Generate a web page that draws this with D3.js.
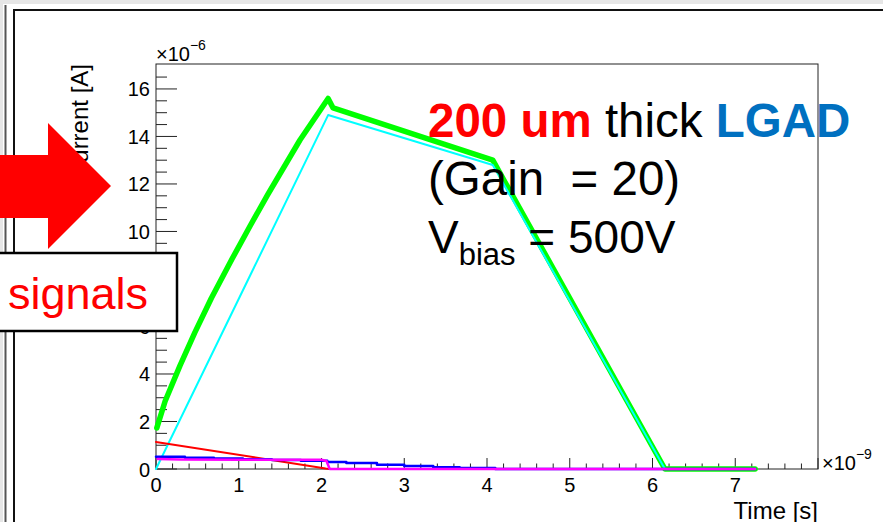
<!DOCTYPE html>
<meta charset="utf-8">
<style>
body { margin: 0; background: #fff; }
svg { display: block; font-family: "Liberation Sans", Arial, sans-serif; }
</style>
<body>
<script src="https://d3js.org/d3.v7.min.js"></script>
<script>
// values: time in ns, current in uA
var timeGreen = [0.01, 0.11, 0.29, 0.47, 0.67, 0.92, 1.14, 1.35, 1.74, 2.08, 2.14, 4.07, 6.15, 7.24]
var currGreen = [1.73, 2.85, 4.35, 5.75, 7.2, 8.85, 10.25, 11.55, 13.85, 15.6, 15.2, 13.0, 0, 0]
var timeCyan = [0, 2.08, 4.07, 6.15, 7.24]
var currCyan = [0, 14.9, 12.8, 0, 0]
var timeRed = [0, 2.05, 2.1]
var currRed = [1.14, 0.02, 0]
var timeBlue = [0, 0.35, 0.7, 1.05, 1.4, 1.75, 2.07, 2.3, 2.67, 3.0, 3.35, 3.67, 4.1, 7.24]
var currBlue = [0.52, 0.47, 0.44, 0.41, 0.38, 0.35, 0.29, 0.25, 0.18, 0.13, 0.07, 0.04, 0, 0]
var timeMag = [0.02, 0.3, 1.0, 1.5, 2.0, 2.06, 2.1, 7.24]
var currMag = [0.42, 0.40, 0.39, 0.39, 0.39, 0.34, 0, 0]

var xTicks = [0, 1, 2, 3, 4, 5, 6, 7]
var yTicks = [0, 2, 4, 6, 8, 10, 12, 14, 16]

var W = 883, H = 522
var svg = d3.select("body").append("svg").attr("width", W).attr("height", H)

// canvas frame (ROOT pad edges)
svg.append("rect").attr("x", 0).attr("y", 0).attr("width", W).attr("height", 4).attr("fill", "#e6e6e6")
svg.append("rect").attr("x", 0).attr("y", 0).attr("width", 3).attr("height", H).attr("fill", "#e6e6e6")
svg.append("line").attr("x1", 5.5).attr("x2", 5.5).attr("y1", 5).attr("y2", H).attr("stroke", "#555").attr("stroke-width", 2)
svg.append("line").attr("x1", 14).attr("x2", 14).attr("y1", 9).attr("y2", H).attr("stroke", "#111").attr("stroke-width", 2)
svg.append("line").attr("x1", 13).attr("x2", W).attr("y1", 10).attr("y2", 10).attr("stroke", "#111").attr("stroke-width", 2)

var x = d3.scaleLinear().domain([0, 8]).range([156, 818])
var y = d3.scaleLinear().domain([0, 17.05]).range([469, 64])

var g = svg.append("g")

// frame box
g.append("rect").attr("x", x(0)).attr("y", y(17.05)).attr("width", x(8) - x(0)).attr("height", y(0) - y(17.05))
  .attr("fill", "none").attr("stroke", "#222").attr("stroke-width", 1)

// x ticks (pointing up, inside)
d3.range(0, 8.001, 0.2).forEach(function (t) {
  var major = Math.abs(t - Math.round(t)) < 1e-6
  g.append("line").attr("x1", x(t)).attr("x2", x(t)).attr("y1", y(0)).attr("y2", y(0) - (major ? 11 : 5.5))
    .attr("stroke", "#222").attr("stroke-width", 1)
})
// y ticks (pointing right, inside)
d3.range(0, 16.6, 0.5).forEach(function (v) {
  var major = Math.abs(v / 2 - Math.round(v / 2)) < 1e-6
  g.append("line").attr("x1", x(0)).attr("x2", x(0) + (major ? 21 : 11)).attr("y1", y(v)).attr("y2", y(v))
    .attr("stroke", "#222").attr("stroke-width", 1)
})

g.selectAll(".xl").data(xTicks).enter().append("text")
  .attr("x", (d) => x(d)).attr("y", 492).attr("text-anchor", "middle")
  .style("font-size", "20px").text((d) => d)
g.selectAll(".yl").data(yTicks).enter().append("text")
  .attr("x", 150).attr("y", (d) => y(d) + 7.5).attr("text-anchor", "end")
  .style("font-size", "20px").text((d) => d)

// exponents
var e6 = g.append("text").attr("x", 156).attr("y", 61).style("font-size", "20px")
e6.append("tspan").text("\u00d710")
e6.append("tspan").attr("dy", -11).style("font-size", "14px").text("\u22126")
var e9 = g.append("text").attr("x", 822).attr("y", 470).style("font-size", "20px")
e9.append("tspan").text("\u00d710")
e9.append("tspan").attr("dy", -11).style("font-size", "14px").text("\u22129")

// axis titles
g.append("text").attr("x", 818).attr("y", 519).attr("text-anchor", "end").style("font-size", "24px").text("Time [s]")
g.append("text").attr("transform", "translate(88,64) rotate(-90)").attr("text-anchor", "end")
  .style("font-size", "24px").text("Current [A]")

// curves
function draw(tt, cc, color, w, curve) {
  var pts = tt.map((t, i) => [t, cc[i]])
  g.append("path").datum(pts)
    .attr("d", d3.line().x((d) => x(d[0])).y((d) => y(d[1])).curve(curve || d3.curveLinear))
    .attr("fill", "none").attr("stroke", color).attr("stroke-width", w)
    .attr("stroke-linejoin", "round").attr("stroke-linecap", "round")
}
draw(timeGreen, currGreen, "#00ff00", 5.5)
draw(timeCyan, currCyan, "#00ffff", 2)
draw(timeRed, currRed, "#ff0000", 2)
draw(timeBlue, currBlue, "#0000ff", 2.5, d3.curveStepAfter)
draw(timeMag, currMag, "#ff00ff", 2.5)

// annotation text
var t1 = svg.append("text").attr("x", 428).attr("y", 137).style("font-size", "47.5px")
t1.append("tspan").attr("fill", "#ff0000").style("font-weight", "bold").text("200 um")
t1.append("tspan").attr("fill", "#000").text(" thick ")
t1.append("tspan").attr("fill", "#0070c0").style("font-weight", "bold").text("LGAD")
svg.append("text").attr("x", 428).attr("y", 195).style("font-size", "47.5px").style("white-space", "pre").text("(Gain  = 20)")
var t3 = svg.append("text").attr("x", 428).attr("y", 253).style("font-size", "46px").style("white-space", "pre")
t3.append("tspan").text("V")
t3.append("tspan").attr("dy", 12).style("font-size", "31px").text("bias")
t3.append("tspan").attr("dy", -12).text(" = 500V")

// red block arrow
svg.append("path")
  .attr("d", "M0,155 L48,155 L48,123 L111,186 L48,249 L48,218 L0,218 Z")
  .attr("fill", "#ff0000")

// "signals" box
svg.append("rect").attr("x", -3).attr("y", 253).attr("width", 180).attr("height", 78)
  .attr("fill", "#fff").attr("stroke", "#000").attr("stroke-width", 2.5)
svg.append("text").attr("x", 8).attr("y", 309).attr("fill", "#ff0000").style("font-size", "45px").text("signals")
</script>
